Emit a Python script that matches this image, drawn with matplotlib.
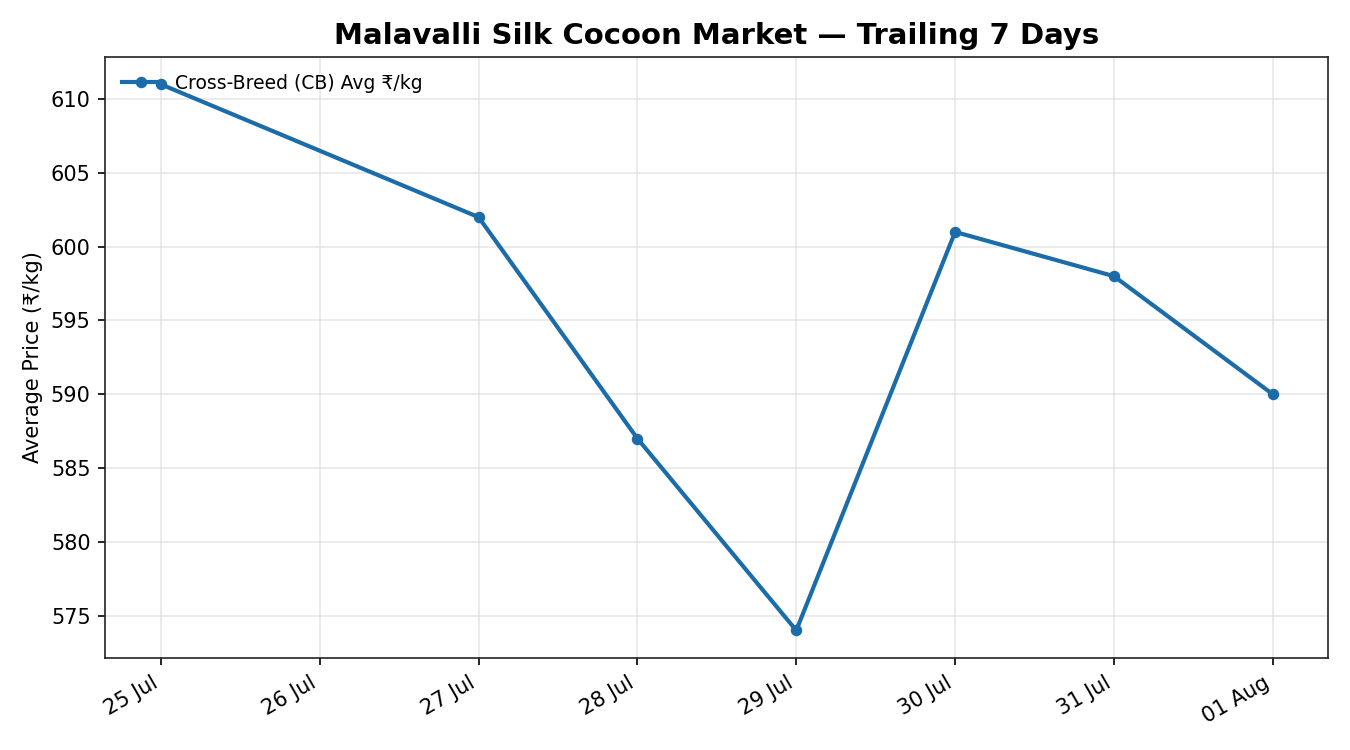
"""Malavalli silk cocoon market, trailing 7 days."""

import matplotlib
matplotlib.use("Agg")
import matplotlib.pyplot as plt
import matplotlib.dates as mdates
import pandas as pd

# ── Data ──────────────────────────────────────────────────────
dates = ["2024-07-25", "2024-07-27", "2024-07-28", "2024-07-29",
         "2024-07-30", "2024-07-31", "2024-08-01"]
cb_avg_price = [611, 602, 587, 574, 601, 598, 590]

x = pd.to_datetime(dates)
LINE = "#1b6ca8"

fig, ax = plt.subplots(figsize=(9, 5), dpi=150)

ax.plot(x, cb_avg_price, "o-", color=LINE, lw=2, ms=4.5,
        label="Cross-Breed (CB) Avg ₹/kg")

ax.set_title("Malavalli Silk Cocoon Market — Trailing 7 Days",
             fontsize=14, fontweight="bold")
ax.set_ylabel("Average Price (₹/kg)")
ax.grid(True, color="#d9d9d9", lw=0.8, alpha=0.6)
ax.xaxis.set_major_locator(mdates.DayLocator())
ax.xaxis.set_major_formatter(mdates.DateFormatter("%d %b"))
for spine in ax.spines.values():
    spine.set_color("#222222")
ax.legend(loc="upper left", frameon=False, fontsize=9)

fig.autofmt_xdate()
fig.subplots_adjust(left=0.078, right=0.984, top=0.924, bottom=0.123)
fig.savefig("out.png", dpi=150)
